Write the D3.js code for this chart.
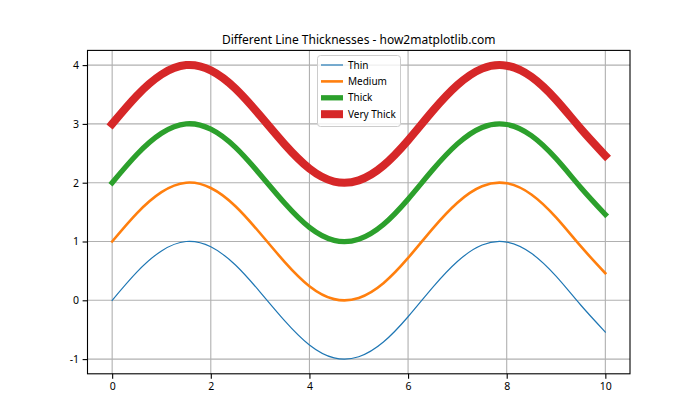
<!DOCTYPE html>
<html><head><meta charset="utf-8">
<script src="https://cdn.jsdelivr.net/npm/d3@7"></script>
<style>body{margin:0;background:#fff;} text{font-family:"Noto Sans","DejaVu Sans",sans-serif;}</style>
</head><body>
<svg id="c" width="700" height="420"></svg>
<script>
const xs = [0,0.5,1,1.5,2,2.5,3,3.5,4,4.5,5,5.5,6,6.5,7,7.5,8,8.5,9,9.5,10];
const thin = [0.00,0.48,0.84,1.00,0.91,0.60,0.14,-0.35,-0.76,-0.98,-0.96,-0.71,-0.28,0.22,0.66,0.94,0.99,0.80,0.41,-0.08,-0.54];
const medium = [1.00,1.48,1.84,2.00,1.91,1.60,1.14,0.65,0.24,0.02,0.04,0.29,0.72,1.22,1.66,1.94,1.99,1.80,1.41,0.92,0.46];
const thick = [2.00,2.48,2.84,3.00,2.91,2.60,2.14,1.65,1.24,1.02,1.04,1.29,1.72,2.22,2.66,2.94,2.99,2.80,2.41,1.92,1.46];
const veryThick = [3.00,3.48,3.84,4.00,3.91,3.60,3.14,2.65,2.24,2.02,2.04,2.29,2.72,3.22,3.66,3.94,3.99,3.80,3.41,2.92,2.46];
const seriesNames = ["Thin","Medium","Thick","Very Thick"];
const seriesColors = ["#1f77b4","#ff7f0e","#2ca02c","#d62728"];
const seriesWidths = [1.2,2.6,5.3,8];
const xTicks = [0,2,4,6,8,10];
const yTicks = [-1,0,1,2,3,4];
const title = "Different Line Thicknesses - how2matplotlib.com";

const allSeries = [thin, medium, thick, veryThick];
const L=87.5,R=630,T=50.4,B=373.8;
const svg = d3.select("#c");
const x = d3.scaleLinear().domain([-0.5,10.5]).range([L,R]);
const y = d3.scaleLinear().domain([-1.25,4.25]).range([B,T]);

// grid
svg.append("g").selectAll("line").data(xTicks).join("line")
  .attr("x1",d=>x(d)).attr("x2",d=>x(d)).attr("y1",T).attr("y2",B)
  .attr("stroke","#b0b0b0").attr("stroke-width",1.1);
svg.append("g").selectAll("line").data(yTicks).join("line")
  .attr("y1",d=>y(d)).attr("y2",d=>y(d)).attr("x1",L).attr("x2",R)
  .attr("stroke","#b0b0b0").attr("stroke-width",1.1);

// lines
svg.append("clipPath").attr("id","clp").append("rect").attr("x",L).attr("y",T).attr("width",R-L).attr("height",B-T);
const line = d3.line().x((d,i)=>x(xs[i])).y(d=>y(d)).curve(d3.curveNatural);
allSeries.forEach((s,k)=>{
  svg.append("path").attr("d",line(s)).attr("fill","none")
    .attr("stroke",seriesColors[k]).attr("stroke-width",seriesWidths[k])
    .attr("stroke-linecap","square").attr("stroke-linejoin","round")
    .attr("clip-path","url(#clp)");
});

// axes
const xAxis = svg.append("g").attr("transform",`translate(0,${B})`)
  .call(d3.axisBottom(x).tickValues(xTicks).tickSize(4.9).tickPadding(3.5).tickFormat(d3.format("d")));
const yAxis = svg.append("g").attr("transform",`translate(${L},0)`)
  .call(d3.axisLeft(y).tickValues(yTicks).tickSize(4.9).tickPadding(3.5).tickFormat(d=>d<0?"-"+Math.abs(d):d));
[xAxis,yAxis].forEach(a=>{
  a.select(".domain").remove();
  a.selectAll("line").attr("stroke","#000").attr("stroke-width",1.1);
  a.selectAll("text").attr("font-size",10.5).attr("fill","#000").style("font-family","'Noto Sans',sans-serif");
});
svg.append("rect").attr("x",L).attr("y",T).attr("width",R-L).attr("height",B-T)
  .attr("fill","none").attr("stroke","#000").attr("stroke-width",1.1);

// title
svg.append("text").attr("x",(L+R)/2).attr("y",T-6).attr("text-anchor","middle")
  .attr("font-size",12).attr("fill","#000").text(title);

// legend
const lg = svg.append("g");
lg.append("rect").attr("x",317.5).attr("y",55.5).attr("width",83).attr("height",71).attr("rx",3)
  .attr("fill","#fff").attr("fill-opacity",0.8).attr("stroke","#cccccc").attr("stroke-width",1);
seriesNames.forEach((n,k)=>{
  const yy = 65 + k*16.4;
  lg.append("line").attr("x1",321).attr("x2",343).attr("y1",yy).attr("y2",yy)
    .attr("stroke",seriesColors[k]).attr("stroke-width",seriesWidths[k]);
  lg.append("text").attr("x",348).attr("y",yy+3.5).attr("font-size",10).attr("fill","#000").text(n);
});
</script>
</body></html>
